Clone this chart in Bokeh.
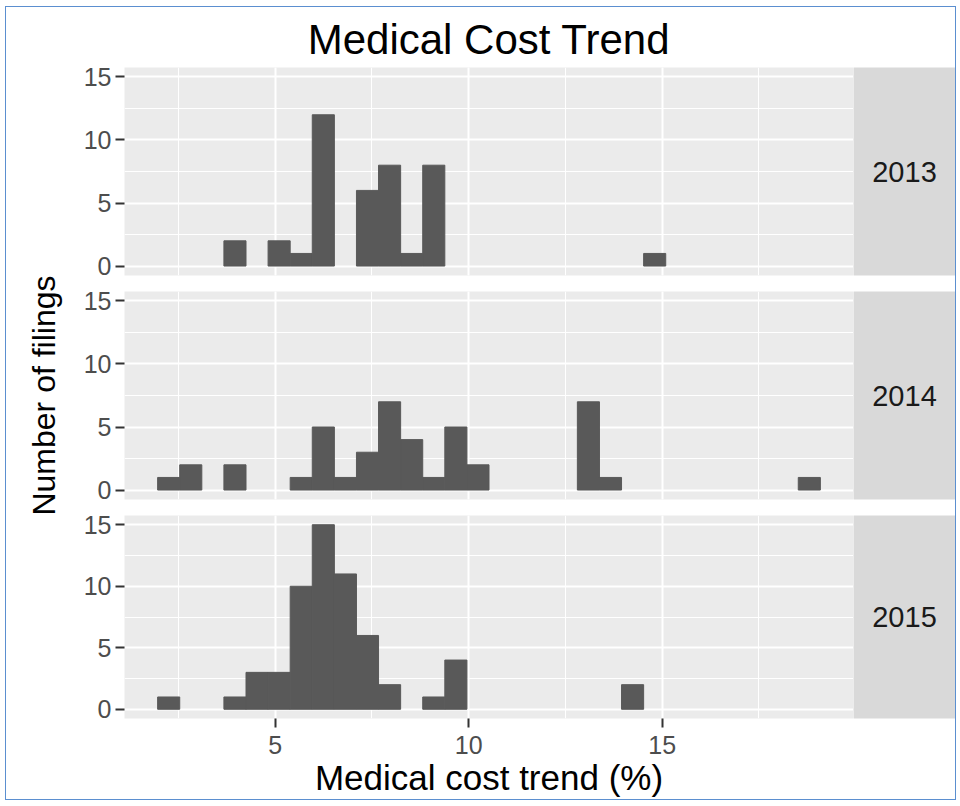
from bokeh.plotting import figure
from bokeh.layouts import column, row
from bokeh.models import Range1d, SingleIntervalTicker, ColumnDataSource, Label
from bokeh.embed import file_html
from bokeh.resources import INLINE
from bokeh.core.properties import value

# ---------------- data ----------------
years = ["2013", "2014", "2015"]
trend_first_bin_centre = 2.25    # % (centre of first histogram bin)
trend_last_bin_centre = 18.80    # % (centre of last histogram bin)
n_bins = 30
counts_2013 = [0, 0, 0, 2, 0, 2, 1, 12, 0, 6, 8, 1, 8, 0, 0,
               0, 0, 0, 0, 0, 0, 0, 1, 0, 0, 0, 0, 0, 0, 0]
counts_2014 = [1, 2, 0, 2, 0, 0, 1, 5, 1, 3, 7, 4, 1, 5, 2,
               0, 0, 0, 0, 7, 1, 0, 0, 0, 0, 0, 0, 0, 0, 1]
counts_2015 = [1, 0, 0, 1, 3, 3, 10, 15, 11, 6, 2, 0, 1, 4, 0,
               0, 0, 0, 0, 0, 0, 2, 0, 0, 0, 0, 0, 0, 0, 0]
x_tick_interval = 5
y_tick_interval = 5
title_text = "Medical Cost Trend"
x_label = "Medical cost trend (%)"
y_label = "Number of filings"

# ---------------- bins and ranges (ggplot-style) ----------------
bw = (trend_last_bin_centre - trend_first_bin_centre) / (n_bins - 1)
edges = [trend_first_bin_centre - bw / 2 + i * bw for i in range(n_bins + 1)]
span = edges[-1] - edges[0]
x_lo, x_hi = edges[0] - 0.05 * span, edges[-1] + 0.05 * span
y_max = max(max(counts_2013), max(counts_2014), max(counts_2015))
y_lo, y_hi = -0.05 * y_max, y_max * 1.05

FONT = "Liberation Sans"
LABEL_W = 60
PANEL_W = 787
STRIP_W = 102
FRAME_H = 208
LEFT = 58
BAR = "#595959"


def make_panel(counts, top, bottom, title=None, show_x=False):
    p = figure(width=PANEL_W, height=top + FRAME_H + bottom,
               x_range=Range1d(x_lo, x_hi), y_range=Range1d(y_lo, y_hi),
               output_backend="svg", toolbar_location=None, tools="",
               min_border_left=LEFT, min_border_right=0,
               min_border_top=top, min_border_bottom=bottom)
    p.background_fill_color = "#EBEBEB"
    p.border_fill_color = "white"
    p.outline_line_color = None

    xt = SingleIntervalTicker(interval=x_tick_interval, num_minor_ticks=2)
    yt = SingleIntervalTicker(interval=y_tick_interval, num_minor_ticks=2)
    p.xaxis.ticker = xt
    p.yaxis.ticker = yt
    for g in (p.xgrid, p.ygrid):
        g.grid_line_color = "white"
        g.grid_line_width = 2
        g.minor_grid_line_color = "white"
        g.minor_grid_line_width = 1
    p.xgrid.ticker = xt
    p.ygrid.ticker = yt

    for ax in (p.xaxis, p.yaxis):
        ax.axis_line_color = None
        ax.major_tick_in = 0
        ax.major_tick_out = 9
        ax.major_tick_line_color = "#333333"
        ax.major_tick_line_width = 2
        ax.minor_tick_line_color = None
        ax.major_label_text_font = FONT
        ax.major_label_text_font_size = "25px"
        ax.major_label_text_color = "#4D4D4D"
        ax.major_label_standoff = 4
        ax.axis_label_text_font = FONT
        ax.axis_label_text_font_style = "normal"
        ax.axis_label_text_color = "black"
    p.xaxis.major_label_standoff = 8
    p.xaxis.visible = show_x
    if show_x:
        p.xaxis.axis_label = x_label
        p.xaxis.axis_label_text_font_size = "35px"
        p.xaxis.axis_label_standoff = 1
    if title:
        p.title.text = title
        p.title.align = "center"
        p.title.text_font = FONT
        p.title.text_font_size = "42px"
        p.title.text_font_style = "normal"
        p.title.text_color = "black"
        p.title.standoff = 10
        p.title.offset = 0

    keep = [i for i, c in enumerate(counts) if c > 0]
    src = ColumnDataSource(dict(
        left=[edges[i] for i in keep],
        right=[edges[i + 1] for i in keep],
        top=[counts[i] for i in keep],
        bottom=[0] * len(keep)))
    p.quad(left="left", right="right", top="top", bottom="bottom", source=src,
           fill_color=BAR, line_color=BAR, line_width=1)
    return p


def make_strip(label, top, bottom):
    s = figure(width=STRIP_W, height=top + FRAME_H + bottom,
               x_range=Range1d(0, 1), y_range=Range1d(0, 1),
               output_backend="svg", toolbar_location=None, tools="",
               min_border_left=0, min_border_right=0,
               min_border_top=top, min_border_bottom=bottom)
    s.background_fill_color = "#D9D9D9"
    s.border_fill_color = "white"
    s.outline_line_color = None
    s.xaxis.visible = False
    s.yaxis.visible = False
    s.xgrid.visible = False
    s.ygrid.visible = False
    s.text(x=[0.5], y=[0.5], text=[label], text_font=value(FONT),
           text_font_size="29px", text_color="#1A1A1A",
           text_align="center", text_baseline="middle")
    return s


rows_spec = [
    (counts_2013, years[0], 60, 8, title_text, False),
    (counts_2014, years[1], 8, 8, None, False),
    (counts_2015, years[2], 8, 76, None, True),
]
rows = []
total_h = 0
for counts, yr, top, bottom, ttl, showx in rows_spec:
    rows.append(row(make_panel(counts, top, bottom, ttl, showx),
                    make_strip(yr, top, bottom)))
    total_h += top + FRAME_H + bottom

# shared y-axis title, centred on the middle panel
mid_top = rows_spec[0][2] + FRAME_H + rows_spec[0][3] + rows_spec[1][2]
mid_centre_from_top = mid_top + FRAME_H / 2
lab = figure(width=LABEL_W, height=total_h,
             x_range=Range1d(0, LABEL_W), y_range=Range1d(0, total_h),
             output_backend="svg", toolbar_location=None, tools="",
             min_border=0, min_border_left=0, min_border_right=0,
             min_border_top=0, min_border_bottom=0)
lab.outline_line_color = None
lab.background_fill_color = "white"
lab.border_fill_color = "white"
lab.xaxis.visible = False
lab.yaxis.visible = False
lab.xgrid.visible = False
lab.ygrid.visible = False
lab.add_layout(Label(x=LABEL_W * 0.63, y=total_h - mid_centre_from_top,
                     text=y_label, angle=90, angle_units="deg",
                     text_font=FONT, text_font_size="32px",
                     text_color="black", text_align="center",
                     text_baseline="middle"))

layout = row(lab, column(*rows), margin=(6, 0, 0, 5),
             styles={"border": "1px solid #5B8FD0"})

open("out.html", "w").write(file_html(layout, INLINE))
